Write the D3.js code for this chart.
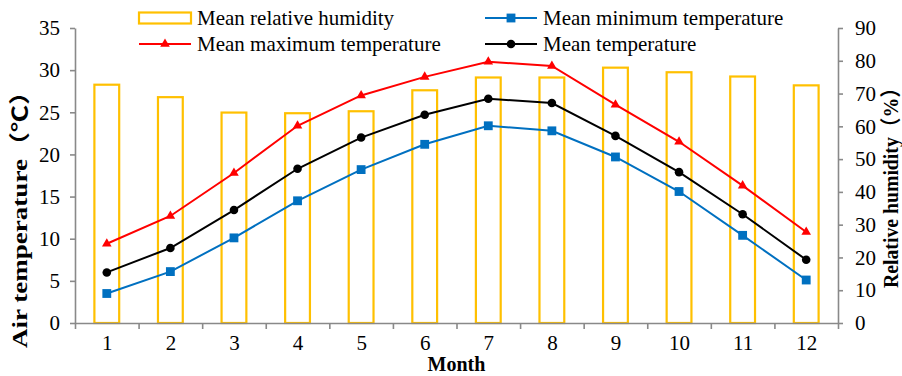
<!DOCTYPE html>
<html>
<head>
<meta charset="utf-8">
<script src="https://cdn.jsdelivr.net/npm/d3@7"></script>
<style>
  body { margin: 0; background: #fff; }
  svg text { font-family: "Liberation Serif", "Times New Roman", "Noto Sans CJK SC", serif; }
</style>
</head>
<body>
<svg id="chart" width="902" height="376"></svg>
<script>
const months = [1, 2, 3, 4, 5, 6, 7, 8, 9, 10, 11, 12];
const humidity = [72.7, 68.9, 64.2, 64.0, 64.6, 71.0, 74.9, 74.9, 77.9, 76.5, 75.2, 72.5];
const tMax = [9.4, 12.7, 17.8, 23.4, 27.0, 29.2, 31.0, 30.5, 25.9, 21.5, 16.3, 10.8];
const tMean = [6.0, 8.9, 13.4, 18.3, 22.0, 24.7, 26.6, 26.1, 22.2, 17.9, 12.9, 7.5];
const tMin = [3.5, 6.1, 10.1, 14.5, 18.2, 21.2, 23.4, 22.8, 19.7, 15.6, 10.4, 5.1];
const tempTicks = [0, 5, 10, 15, 20, 25, 30, 35];
const humTicks = [0, 10, 20, 30, 40, 50, 60, 70, 80, 90];

const margin = {top: 28, right: 64, bottom: 53, left: 75};
const width = 902, height = 376;
const axisColor = "#898989";
const fontSize = 21;
const fontFamily = '"Liberation Serif", "Times New Roman", "Noto Sans CJK SC", serif';

const svg = d3.select("#chart");

const x = d3.scaleLinear().domain([0.5, 12.5]).range([margin.left, width - margin.right]);
const yT = d3.scaleLinear().domain([0, 35]).range([height - margin.bottom, margin.top]);
const yH = d3.scaleLinear().domain([0, 90]).range([height - margin.bottom, margin.top]);
const bandW = x(1.5) - x(0.5);
const barW = bandW * 0.39;

// humidity bars (outlined)
svg.append("g").selectAll("rect")
    .data(months)
    .enter().append("rect")
    .attr("x", (d) => x(d) - barW / 2)
    .attr("y", (d, i) => yH(humidity[i]))
    .attr("width", barW)
    .attr("height", (d, i) => yH(0) - yH(humidity[i]))
    .style("fill", "none")
    .style("stroke", "#FFC000")
    .style("stroke-width", 2.2);

// axes
function styleAxis(g) {
    g.selectAll("path.domain").style("stroke", axisColor).style("stroke-width", 1.6);
    g.selectAll(".tick line").style("stroke", axisColor).style("stroke-width", 1.6);
    g.selectAll("text").style("font-size", fontSize + "px").style("fill", "#000")
        .style("font-family", fontFamily);
}

svg.append("g")
    .attr("transform", `translate(0,${yT(0)})`)
    .call(d3.axisBottom(x).tickValues(d3.range(0.5, 13, 1)).tickFormat("").tickSize(6).tickSizeOuter(0))
    .call(styleAxis);

svg.append("g")
    .attr("transform", `translate(0,${yT(0)})`)
    .call(d3.axisBottom(x).tickValues(months).tickSize(0).tickPadding(12).tickFormat(d3.format("d")))
    .call((g) => g.select("path.domain").remove())
    .call(styleAxis);

svg.append("g")
    .attr("transform", `translate(${margin.left},0)`)
    .call(d3.axisLeft(yT).tickValues(tempTicks).tickSize(5).tickPadding(10).tickSizeOuter(0))
    .call(styleAxis);

svg.append("g")
    .attr("transform", `translate(${width - margin.right},0)`)
    .call(d3.axisRight(yH).tickValues(humTicks).tickSize(5).tickPadding(12).tickSizeOuter(0))
    .call(styleAxis);

// lines
const series = [
    {name: "Mean maximum temperature", values: tMax, color: "#FF0000", marker: "triangle"},
    {name: "Mean minimum temperature", values: tMin, color: "#0070C0", marker: "square"},
    {name: "Mean temperature", values: tMean, color: "#000000", marker: "circle"}
];

const line = d3.line()
    .x((d, i) => x(months[i]))
    .y((d) => yT(d));

function marker(sel, type, color) {
    if (type === "square") {
        sel.append("path").attr("d", d3.symbol(d3.symbolSquare, 78)()).style("fill", color);
    } else if (type === "circle") {
        sel.append("path").attr("d", d3.symbol(d3.symbolCircle, 58)()).style("fill", color);
    } else {
        sel.append("path").attr("d", d3.symbol(d3.symbolTriangle, 40)()).style("fill", color);
    }
}

series.forEach((s) => {
    svg.append("path")
        .datum(s.values)
        .attr("d", line)
        .style("fill", "none")
        .style("stroke", s.color)
        .style("stroke-width", 2);
    svg.append("g").selectAll("g")
        .data(s.values)
        .enter().append("g")
        .attr("transform", (d, i) => `translate(${x(months[i])},${yT(d)})`)
        .each(function () { marker(d3.select(this), s.marker, s.color); });
});

// axis titles
svg.append("text")
    .attr("transform", `translate(27,348) rotate(-90)`)
    .attr("text-anchor", "start")
    .attr("textLength", 270)
    .attr("lengthAdjust", "spacingAndGlyphs")
    .style("font-size", fontSize + "px")
    .style("font-weight", "bold")
    .text("Air temperature（℃）");

svg.append("text")
    .attr("transform", `translate(898,288) rotate(-90)`)
    .attr("text-anchor", "start")
    .attr("textLength", 210)
    .attr("lengthAdjust", "spacingAndGlyphs")
    .style("font-size", fontSize + "px")
    .style("font-weight", "bold")
    .text("Relative humidity（%）");

svg.append("text")
    .attr("x", x(6.5))
    .attr("y", 371)
    .attr("text-anchor", "middle")
    .style("font-size", "20px")
    .style("font-weight", "bold")
    .text("Month");

// legend
const legend = [
    {name: "Mean relative humidity", type: "bar", color: "#FFC000", lx: 139, ly: 18},
    {name: "Mean maximum temperature", type: "triangle", color: "#FF0000", lx: 139, ly: 44},
    {name: "Mean minimum temperature", type: "square", color: "#0070C0", lx: 485, ly: 18},
    {name: "Mean temperature", type: "circle", color: "#000000", lx: 485, ly: 44}
];

const lg = svg.append("g").selectAll("g")
    .data(legend)
    .enter().append("g")
    .attr("transform", (d) => `translate(${d.lx},${d.ly})`);

lg.each(function (d) {
    const g = d3.select(this);
    if (d.type === "bar") {
        g.append("rect").attr("x", 0).attr("y", -5.5).attr("width", 52).attr("height", 11)
            .style("fill", "none").style("stroke", d.color).style("stroke-width", 2.2);
    } else {
        g.append("line").attr("x1", 0).attr("x2", 52).attr("y1", 0).attr("y2", 0)
            .style("stroke", d.color).style("stroke-width", 2);
        const m = g.append("g").attr("transform", "translate(26,0)");
        marker(m, d.type, d.color);
    }
    g.append("text")
        .attr("x", 58)
        .attr("y", 7)
        .style("font-size", fontSize + "px")
        .text(d.name);
});
</script>
</body>
</html>
